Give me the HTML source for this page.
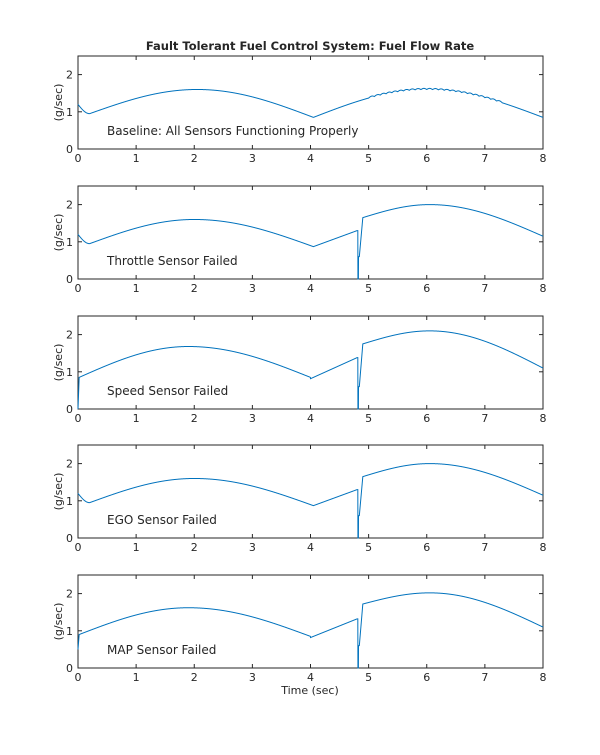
<!DOCTYPE html><html><head><style>body{margin:0;background:#fff}svg text{font-family:"DejaVu Sans","Liberation Sans",sans-serif;fill:#262626}</style></head><body>
<svg id="s" width="600" height="750" xmlns="http://www.w3.org/2000/svg">
<text x="310" y="50" text-anchor="middle" font-size="11.5" font-weight="bold" fill="#000">Fault Tolerant Fuel Control System: Fuel Flow Rate</text>
</svg>
<script>
const s=document.getElementById('s'),NS='http://www.w3.org/2000/svg';
const X0=78,X1=543,H=93,tops=[56,186,316,445,575];
const labels=['Baseline: All Sensors Functioning Properly','Throttle Sensor Failed','Speed Sensor Failed','EGO Sensor Failed','MAP Sensor Failed'];
function arc(t,a,b,lo1,hi,lo2,pk){ // rise from lo1 at a to hi at pk, fall to lo2 at b
 if(t<pk){let u=(t-a)/(pk-a);return lo1+(hi-lo1)*Math.sin(u*Math.PI/2);}
 let u=(t-pk)/(b-pk);return hi-(hi-lo2)*(1-Math.cos(u*Math.PI/2));}
function base(t,k){
 if(k==0){
  if(t<0.2)return 1.2-0.25*Math.sin(t/0.2*Math.PI/2);
  if(t<4.05)return arc(t,0.2,4.05,0.95,1.6,0.85,2.05);
  let v=arc(t,4.05,8,0.85,1.6,0.85,6);
  if(t>5&&t<7.3)v+=0.03*Math.abs(Math.sin((t-5)*Math.PI*10));
  return v;}
 let p={1:[1.2,0.95,1.6,0.87,1.3,1.65,2.0,1.15],2:[0,0.85,1.68,0.85,1.38,1.75,2.1,1.1],3:[1.2,0.95,1.6,0.87,1.3,1.65,2.0,1.15],4:[0.5,0.9,1.62,0.85,1.32,1.72,2.02,1.1]}[k];
 if(k==2||k==4){ if(t<0.02)return p[0]+(p[1]-p[0])*t/0.02; if(t<4)return arc(t,0.02,4,p[1],p[2],p[3],1.9);}
 else{ if(t<0.2)return p[0]-(p[0]-p[1])*Math.sin(t/0.2*Math.PI/2); if(t<4.05)return arc(t,0.2,4.05,p[1],p[2],p[3],2.0);}
 if(t<4.8)return p[3]+(p[4]-p[3])*(t-4.05)/0.75;
 if(t<4.815)return p[4]; if(t<4.825)return 0; if(t<4.84)return 0.6;
 if(t<4.9)return 0.6+(p[5]-0.6)*(t-4.84)/0.06;
 return arc(t,4.9,8,p[5],p[6],p[7],6.05);}
let h='';
tops.forEach((T,k)=>{
 const B=T+H,sx=t=>X0+t*(X1-X0)/8,sy=v=>B-v*H/2.5;
 h+=`<rect x="${X0}" y="${T}" width="${X1-X0}" height="${H}" fill="none" stroke="#262626" stroke-width="1"/>`;
 for(let i=0;i<=8;i++){let x=sx(i);h+=`<line x1="${x}" y1="${B}" x2="${x}" y2="${B-4}" stroke="#262626"/><line x1="${x}" y1="${T}" x2="${x}" y2="${T+4}" stroke="#262626"/><text x="${x}" y="${B+13}" font-size="11" text-anchor="middle">${i}</text>`;}
 for(let v=0;v<=2;v++){let y=sy(v);h+=`<line x1="${X0}" y1="${y}" x2="${X0+4}" y2="${y}" stroke="#262626"/><line x1="${X1}" y1="${y}" x2="${X1-4}" y2="${y}" stroke="#262626"/><text x="${X0-5}" y="${y+4}" font-size="11" text-anchor="end">${v}</text>`;}
 h+=`<text transform="translate(62,${T+H/2}) rotate(-90)" font-size="11" text-anchor="middle">(g/sec)</text>`;
 h+=`<text x="107" y="${T+79}" font-size="12">${labels[k]}</text>`;
 let d='';for(let i=0;i<=4000;i++){let t=i*8/4000;d+=(i?'L':'M')+sx(t).toFixed(2)+' '+sy(base(t,k)).toFixed(2);}
 h+=`<path d="${d}" fill="none" stroke="#0072BD" stroke-width="1"/>`;
});
h+=`<text x="310" y="694" font-size="11" text-anchor="middle">Time (sec)</text>`;
s.insertAdjacentHTML('beforeend',h);
</script></body></html>
